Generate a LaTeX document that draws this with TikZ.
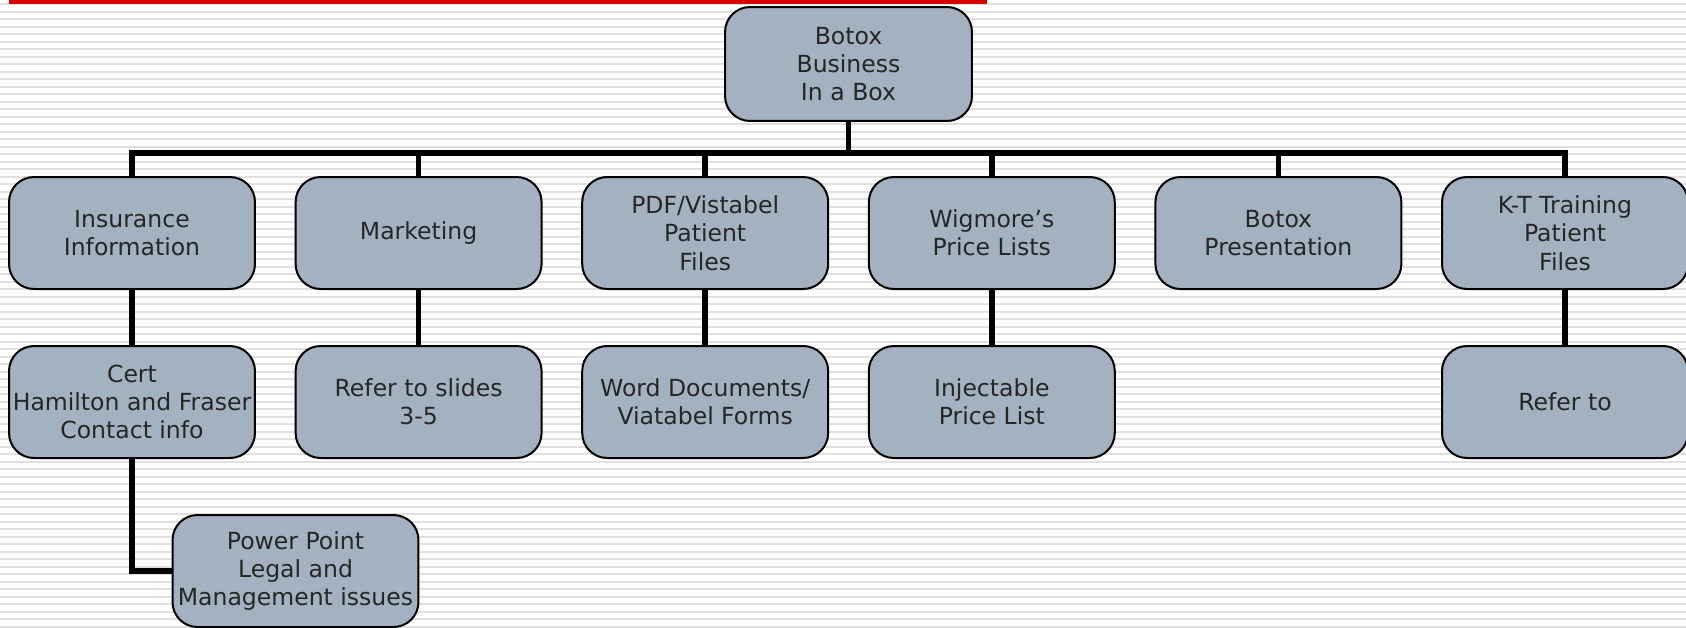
\documentclass[tikz,border=0pt]{standalone}
\usepackage{fontspec}
\setmainfont{DejaVu Sans}
\definecolor{boxgray}{HTML}{A3B1C0}
\definecolor{stripegray}{HTML}{E0E0E0}
\definecolor{barred}{HTML}{D40000}

\begin{document}
\begin{tikzpicture}[x=0.02cm, y=-0.02cm,
    every node/.style={font=\fontsize{13.4}{16.1}\selectfont, align=center, text=black!85},
    orgbox/.style={draw=black, line width=0.04cm, fill=boxgray, rounded corners=0.5cm,
        minimum width=4.92cm, minimum height=2.24cm, inner sep=0pt},
    link/.style={line width=0.11cm},
    stripe/.style={draw=stripegray, line width=0.04cm}]

\useasboundingbox (0,0) rectangle (1686,627);
\fill[white] (0,0) rectangle (1686,627);
\foreach \i in {0,...,83}
    \draw[stripe] (0,{4+7.5*\i}) -- (1686,{4+7.5*\i});
\fill[barred] (9,0) rectangle (987,3.5);

% top
\node[orgbox, minimum width=4.94cm, minimum height=2.28cm] (root) at (848.5,64) {Botox\\Business\\In a Box};

% first row
\node[orgbox] (ins)  at (132,233)    {Insurance\\Information};
\node[orgbox] (mkt)  at (418.6,233)  {Marketing};
\node[orgbox] (pdf)  at (705.2,233)  {PDF/Vistabel\\Patient\\Files};
\node[orgbox] (wig)  at (991.8,233)  {Wigmore’s\\Price Lists};
\node[orgbox] (pres) at (1278.4,233) {Botox\\Presentation};
\node[orgbox] (kt)   at (1565,233)   {K-T Training\\Patient\\Files};

% second row
\node[orgbox] (cert)   at (132,402)    {Cert\\Hamilton and Fraser\\Contact info};
\node[orgbox] (slides) at (418.6,402)  {Refer to slides\\3-5};
\node[orgbox] (word)   at (705.2,402)  {Word Documents/\\Viatabel Forms};
\node[orgbox] (inj)    at (991.8,402)  {Injectable\\Price List};
\node[orgbox] (refer)  at (1565,402)   {Refer to};

\node[orgbox] (pp) at (295.5,571) {Power Point\\Legal and\\Management issues};

% connectors
\coordinate (bus) at (848.5,153);
\draw[link] (root.south) -- (bus);
\draw[link] (ins.north) |- (bus) -| (kt.north);
\foreach \n in {mkt,pdf,wig,pres}
    \draw[link] (\n.north) -- (\n.north |- bus);
\draw[link] (ins.south) -- (cert.north);
\draw[link] (mkt.south) -- (slides.north);
\draw[link] (pdf.south) -- (word.north);
\draw[link] (wig.south) -- (inj.north);
\draw[link] (kt.south) -- (refer.north);
\draw[link] (cert.south) |- (pp.west);
\end{tikzpicture}
\end{document}
